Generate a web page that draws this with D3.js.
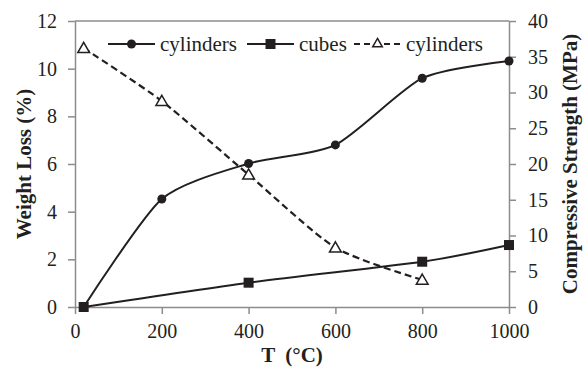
<!DOCTYPE html>
<html lang="en">
<head>
    <meta charset="UTF-8">
    <title>Weight loss and compressive strength</title>
    <style>
        body {
            margin: 0;
            background: #fff;
        }

        #chart-wrapper {
            width: 585px;
            height: 369px;
        }

        text {
            font-family: "Liberation Serif", "Times New Roman", serif;
            fill: #231f20;
        }
    </style>
</head>

<body>
    <div id="chart-wrapper"></div>

    <script src="https://d3js.org/d3.v7.min.js"></script>
    <script>
        // temperatures (°C)
        const cylTemps = [20, 200, 400, 600, 800, 1000]
        const cubeTemps = [20, 400, 800, 1000]
        const strengthTemps = [20, 200, 400, 600, 800]

        // weight loss (%)
        const cylWeightLoss = [0, 4.53, 6.02, 6.8, 9.6, 10.32]
        const cubeWeightLoss = [0, 1.02, 1.9, 2.6]

        // compressive strength (MPa)
        const cylStrength = [36.2, 28.8, 18.5, 8.3, 3.8]

        const xTicks = [0, 200, 400, 600, 800, 1000]
        const leftTicks = [0, 2, 4, 6, 8, 10, 12]
        const rightTicks = [0, 5, 10, 15, 20, 25, 30, 35, 40]

        const legendLabels = ['cylinders', 'cubes', 'cylinders']

        const width = 585
        const height = 369
        const margin = {
            top: 21,
            right: 76,
            bottom: 62,
            left: 75
        }
        const axisColor = '#8c8c8c'
        const ink = '#231f20'

        const svg = d3.select('#chart-wrapper')
            .append('svg')
            .attr('width', width)
            .attr('height', height)

        const xScale = d3.scaleLinear()
            .domain([0, 1000])
            .range([margin.left, width - margin.right])

        const yLeft = d3.scaleLinear()
            .domain([0, 12])
            .range([height - margin.bottom, margin.top])

        const yRight = d3.scaleLinear()
            .domain([0, 40])
            .range([height - margin.bottom, margin.top])

        drawAxes()
        drawSeries()
        drawLegend()
        drawTitles()

        function styleAxis(g) {
            g.selectAll('.domain').attr('stroke', axisColor).attr('stroke-width', 1.5)
            g.selectAll('.tick line').attr('stroke', axisColor).attr('stroke-width', 1.5)
            g.selectAll('.tick text')
                .attr('font-size', '20px')
                .attr('fill', ink)
        }

        function drawAxes() {
            // top border
            svg.append('line')
                .attr('x1', xScale(0))
                .attr('x2', xScale(1000))
                .attr('y1', yLeft(12))
                .attr('y2', yLeft(12))
                .attr('stroke', axisColor)
                .attr('stroke-width', 1.5)

            svg.append('g')
                .attr('transform', `translate(0, ${yLeft(0)})`)
                .call(d3.axisBottom(xScale).tickValues(xTicks).tickFormat(d3.format('d'))
                    .tickSize(7).tickSizeOuter(0).tickPadding(10))
                .call(styleAxis)

            svg.append('g')
                .attr('transform', `translate(${xScale(0)}, 0)`)
                .call(d3.axisLeft(yLeft).tickValues(leftTicks).tickSize(7).tickSizeOuter(0).tickPadding(11))
                .call(styleAxis)

            svg.append('g')
                .attr('transform', `translate(${xScale(1000)}, 0)`)
                .call(d3.axisRight(yRight).tickValues(rightTicks).tickSize(7).tickSizeOuter(0).tickPadding(12))
                .call(styleAxis)
        }

        function drawSeries() {
            const cyl = cylTemps.map((t, i) => ({ t, v: cylWeightLoss[i] }))
            const cube = cubeTemps.map((t, i) => ({ t, v: cubeWeightLoss[i] }))
            const str = strengthTemps.map((t, i) => ({ t, v: cylStrength[i] }))

            const curve = d3.curveCardinal.tension(0.3)

            const lineLeft = d3.line()
                .curve(curve)
                .x(d => xScale(d.t))
                .y(d => yLeft(d.v))

            const lineRight = d3.line()
                .curve(curve)
                .x(d => xScale(d.t))
                .y(d => yRight(d.v))

            svg.append('path')
                .datum(str)
                .attr('fill', 'none')
                .attr('stroke', ink)
                .attr('stroke-width', 2.2)
                .attr('stroke-dasharray', '7 4')
                .attr('d', lineRight)

            svg.append('path')
                .datum(cyl)
                .attr('fill', 'none')
                .attr('stroke', ink)
                .attr('stroke-width', 2)
                .attr('d', lineLeft)

            svg.append('path')
                .datum(cube)
                .attr('fill', 'none')
                .attr('stroke', ink)
                .attr('stroke-width', 2)
                .attr('d', lineLeft)

            svg.append('g')
                .selectAll('circle')
                .data(cyl)
                .join('circle')
                .attr('cx', d => xScale(d.t))
                .attr('cy', d => yLeft(d.v))
                .attr('r', 4.5)
                .attr('fill', ink)

            svg.append('g')
                .selectAll('rect')
                .data(cube)
                .join('rect')
                .attr('x', d => xScale(d.t) - 5)
                .attr('y', d => yLeft(d.v) - 5)
                .attr('width', 10)
                .attr('height', 10)
                .attr('fill', ink)

            const tri = d3.symbol().type(d3.symbolTriangle).size(60)
            svg.append('g')
                .selectAll('path')
                .data(str)
                .join('path')
                .attr('transform', d => `translate(${xScale(d.t)}, ${yRight(d.v) + 1})`)
                .attr('d', tri)
                .attr('fill', '#fff')
                .attr('stroke', ink)
                .attr('stroke-width', 1.5)
        }

        function drawLegend() {
            const items = [
                { x: 108, marker: 'circle', dash: null },
                { x: 247, marker: 'square', dash: null },
                { x: 354, marker: 'triangle', dash: '6 4' }
            ]
            const y = 44
            const lg = svg.append('g').attr('class', 'legend')

            items.forEach((it, i) => {
                lg.append('line')
                    .attr('x1', it.x)
                    .attr('x2', it.x + 47)
                    .attr('y1', y)
                    .attr('y2', y)
                    .attr('stroke', ink)
                    .attr('stroke-width', 2)
                    .attr('stroke-dasharray', it.dash)

                const cx = it.x + 23.5
                if (it.marker === 'circle') {
                    lg.append('circle').attr('cx', cx).attr('cy', y).attr('r', 4.5).attr('fill', ink)
                } else if (it.marker === 'square') {
                    lg.append('rect').attr('x', cx - 5).attr('y', y - 5).attr('width', 10).attr('height', 10).attr('fill', ink)
                } else {
                    lg.append('path')
                        .attr('transform', `translate(${cx}, ${y})`)
                        .attr('d', d3.symbol().type(d3.symbolTriangle).size(40))
                        .attr('fill', '#fff')
                        .attr('stroke', ink)
                        .attr('stroke-width', 1.5)
                }

                lg.append('text')
                    .attr('x', it.x + 52)
                    .attr('y', y)
                    .attr('dy', '0.33em')
                    .attr('font-size', '21px')
                    .text(legendLabels[i])
            })
        }

        function drawTitles() {
            svg.append('text')
                .attr('x', (xScale(0) + xScale(1000)) / 2)
                .attr('y', 362)
                .attr('text-anchor', 'middle')
                .attr('font-size', '21px')
                .attr('font-weight', 'bold')
                .style('white-space', 'pre')
                .text('T  (°C)')

            svg.append('text')
                .attr('transform', `translate(31, ${(yLeft(0) + yLeft(12)) / 2}) rotate(-90)`)
                .attr('text-anchor', 'middle')
                .attr('font-size', '21px')
                .attr('font-weight', 'bold')
                .text('Weight Loss (%)')

            svg.append('text')
                .attr('transform', `translate(577, ${(yLeft(0) + yLeft(12)) / 2}) rotate(-90)`)
                .attr('text-anchor', 'middle')
                .attr('font-size', '21px')
                .attr('font-weight', 'bold')
                .text('Compressive Strength (MPa)')
        }
    </script>
</body>
</html>
